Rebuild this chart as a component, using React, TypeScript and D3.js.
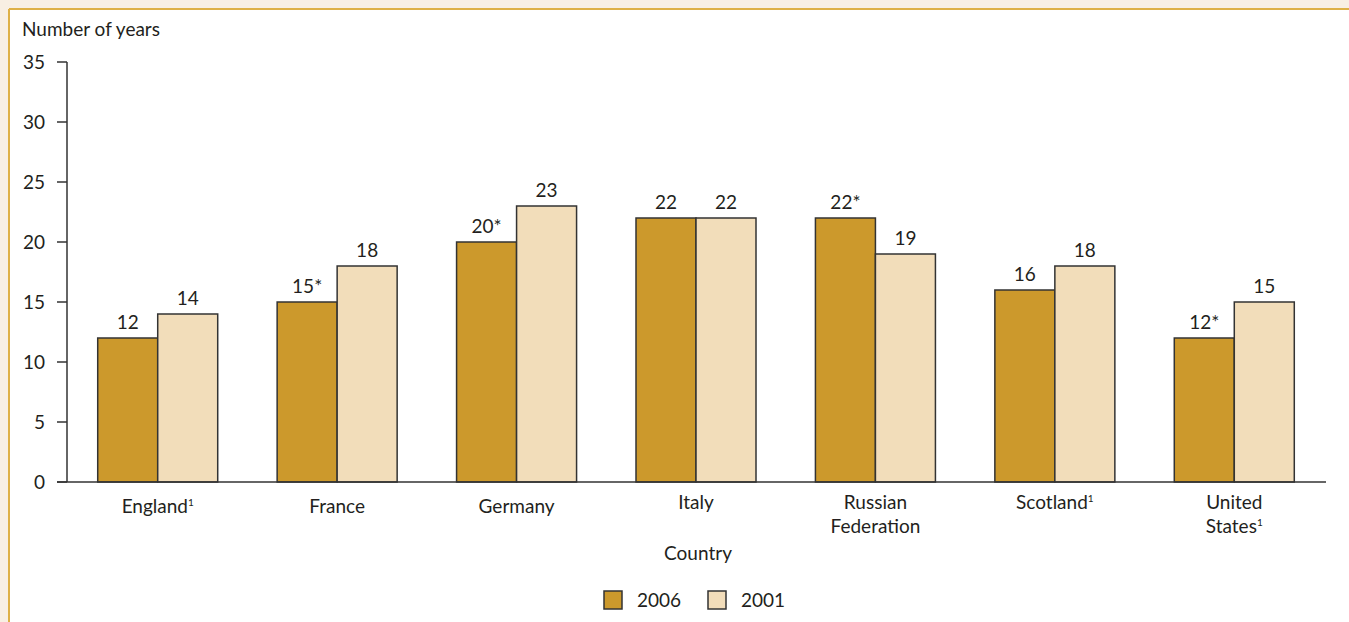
import React from "react";
import * as d3 from "d3";

const categories = ["England", "France", "Germany", "Italy", "Russian Federation", "Scotland", "United States"];
const categoryLines = [["England"], ["France"], ["Germany"], ["Italy"], ["Russian", "Federation"], ["Scotland"], ["United", "States"]];
const footnote = [true, false, false, false, false, true, true];
const series = ["2006", "2001"];
const values2006 = [12, 15, 20, 22, 22, 16, 12];
const values2001 = [14, 18, 23, 22, 19, 18, 15];
const star2006 = [false, true, true, false, true, false, true];
const yTicks = [0, 5, 10, 15, 20, 25, 30, 35];

const W = 1349, H = 622;
const FONT = "Lato, 'Open Sans', sans-serif";
const FS = 19;
const colors = ["#cc992c", "#f2ddba"];
const ink = "#231f20";

export default function App() {
  const x = d3.scaleBand().domain(categories).range([68, 1324]).paddingInner(0).paddingOuter(0);
  const inner = d3.scaleBand().domain(series).range([0, 120]);
  const y = d3.scaleLinear().domain([0, 35]).range([482, 62]);
  const offset = (x.bandwidth() - 120) / 2;
  const data = [values2006, values2001];
  return (
    <svg width={W} height={H} style={{ position: "absolute", left: 0, top: 0 }} fontFamily={FONT}>
      <rect x={0} y={0} width={W} height={H} fill="#f8efe3" />
      <rect x={9} y={9} width={W} height={H} fill="#ffffff" />
      <line x1={9} x2={W} y1={9} y2={9} stroke="#deb046" strokeWidth={2} />
      <line x1={9} x2={9} y1={9} y2={H} stroke="#deb046" strokeWidth={2} />
      <text x={22} y={36} fontSize={FS} fill={ink}>Number of years</text>
      {yTicks.map((t) => (
        <g key={t}>
          <line x1={57} x2={67} y1={y(t)} y2={y(t)} stroke="#333" strokeWidth={1.5} />
          <text x={45} y={y(t) + 6.5} fontSize={FS} textAnchor="end" fill={ink}>{t}</text>
        </g>
      ))}
      {categories.map((c, i) => (
        <g key={c}>
          {series.map((s, j) => {
            const v = data[j][i];
            const bx = (x(c) as number) + offset + (inner(s) as number);
            return (
              <g key={s}>
                <rect x={bx} y={y(v)} width={inner.bandwidth()} height={y(0) - y(v)} fill={colors[j]} stroke="#333" strokeWidth={1.5} />
                <text x={bx + inner.bandwidth() / 2} y={y(v) - 9} fontSize={FS} textAnchor="middle" fill={ink}>
                  {v}{j === 0 && star2006[i] ? "*" : ""}
                </text>
              </g>
            );
          })}
          <text x={(x(c) as number) + x.bandwidth() / 2} y={i < 3 ? 513 : 509} fontSize={FS} textAnchor="middle" fill={ink}>
            {categoryLines[i].map((ln, k) => (
              <tspan key={k} x={(x(c) as number) + x.bandwidth() / 2} dy={k === 0 ? 0 : 24}>
                {ln}
                {k === categoryLines[i].length - 1 && footnote[i] ? <tspan fontSize={10} dy={-7}>1</tspan> : null}
              </tspan>
            ))}
          </text>
        </g>
      ))}
      <line x1={67} x2={67} y1={62} y2={482} stroke="#333" strokeWidth={1.5} />
      <line x1={57} x2={1326} y1={482} y2={482} stroke="#333" strokeWidth={1.5} />
      <text x={698} y={560} fontSize={FS} textAnchor="middle" fill={ink}>Country</text>
      {series.map((s, j) => (
        <g key={s}>
          <rect x={604 + j * 104} y={591} width={18} height={18} fill={colors[j]} stroke="#333" strokeWidth={1.5} />
          <text x={637 + j * 104} y={607} fontSize={FS} fill={ink}>{s}</text>
        </g>
      ))}
    </svg>
  );
}
